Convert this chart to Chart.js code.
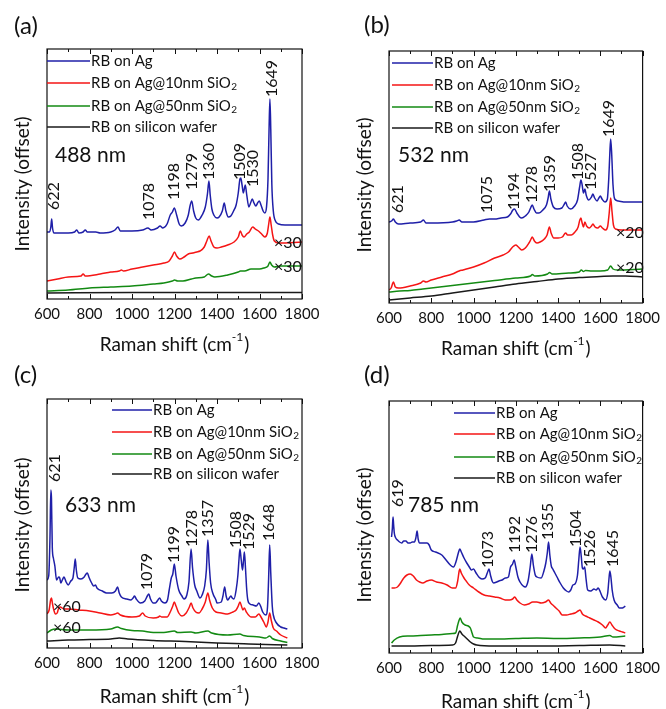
<!DOCTYPE html>
<html>
<head>
<meta charset="utf-8">
<script src="https://cdn.jsdelivr.net/npm/chart.js@4.4.0/dist/chart.umd.min.js"></script>
<style>
  body { margin: 0; background: #fff; width: 666px; height: 709px; overflow: hidden; position: relative; }
  .panel { position: absolute; }
</style>
</head>
<body>
<div class="panel" style="left:0;top:0"><canvas id="cA" width="333" height="368"></canvas></div>
<div class="panel" style="left:333px;top:0"><canvas id="cB" width="333" height="368"></canvas></div>
<div class="panel" style="left:0;top:354px"><canvas id="cC" width="333" height="355"></canvas></div>
<div class="panel" style="left:333px;top:354px"><canvas id="cD" width="333" height="355"></canvas></div>

<script>
// ---- data (Raman shift cm-1, offset intensity) ----
const SERIES_LABELS = ["RB on Ag", "RB on Ag@10nm SiO_2", "RB on Ag@50nm SiO_2", "RB on silicon wafer"];
const X_TICKS = [600, 800, 1000, 1200, 1400, 1600, 1800];

// (a) 488 nm
const aBlue = [[600,67],[612,67],[618,72],[622,80],[626,71],[632,66],[700,66],[730,67],[740,69],[750,66],[770,67],[780,69],[790,67],[830,67],[850,66],[900,67],[920,69],[934,72],[945,68],[1000,68],[1050,69],[1075,71],[1090,69],[1120,71],[1132,73],[1145,71],[1165,75],[1180,84],[1190,87],[1199,91],[1210,84],[1222,75],[1232,73],[1250,76],[1265,84],[1273,93],[1281,98],[1290,88],[1300,81],[1312,79],[1330,84],[1345,92],[1355,105],[1362,118],[1368,104],[1376,90],[1385,84],[1400,81],[1410,82],[1425,88],[1434,96],[1442,88],[1453,82],[1465,83],[1478,88],[1490,94],[1500,106],[1508,120],[1512,121],[1518,114],[1524,106],[1533,114],[1540,104],[1550,92],[1558,96],[1566,100],[1574,96],[1583,93],[1591,96],[1599,98],[1607,94],[1617,88],[1625,86],[1633,92],[1640,120],[1645,170],[1649,200],[1653,170],[1658,115],[1665,88],[1675,78],[1690,75],[1720,74],[1800,74]];
const aRed = [[600,18],[650,20],[700,22],[760,23],[770,25],[780,23],[850,25],[900,27],[940,28],[950,29],[960,28],[1000,30],[1050,32],[1100,34],[1150,36],[1175,38],[1190,43],[1200,47],[1210,43],[1225,40],[1245,42],[1265,45],[1285,46],[1305,47],[1320,48],[1340,52],[1352,58],[1363,63],[1372,58],[1385,52],[1400,51],[1420,52],[1450,54],[1480,57],[1500,62],[1510,68],[1518,64],[1527,62],[1540,65],[1552,67],[1568,72],[1580,70],[1595,68],[1610,65],[1625,62],[1637,66],[1644,76],[1649,82],[1655,74],[1662,64],[1670,58],[1690,56],[1800,57]];
const aGreen = [[600,8],[700,9],[800,11],[900,12],[1000,13],[1100,15],[1150,16],[1190,18],[1200,19],[1215,18],[1240,18],[1280,20],[1300,21],[1340,22],[1360,25],[1375,23],[1390,22],[1450,24],[1500,27],[1510,28],[1530,28],[1560,30],[1600,30],[1620,31],[1640,33],[1649,37],[1657,34],[1670,32],[1700,33],[1800,33]];
const aBlack = [[600,6],[1000,6.5],[1400,6.5],[1800,6.5]];
const aPeaks = [["622",633,89],["1078",1078,79],["1198",1199,99],["1279",1282,109],["1360",1362,119],["1509",1509,119],["1530",1569,112],["1649",1659,202]];

// (b) 532 nm
const bBlue = [[600,81],[612,82],[621,84],[630,81],[645,79],[700,80],[750,81],[763,83],[775,80],[800,80],[900,81],[920,82],[932,83],[945,81],[1000,81],[1050,83],[1075,84],[1100,84],[1130,85],[1160,86],[1175,89],[1186,93],[1194,94],[1205,90],[1218,86],[1228,85],[1245,87],[1262,91],[1272,96],[1278,98],[1286,94],[1298,90],[1310,90],[1328,93],[1345,98],[1353,105],[1359,112],[1366,104],[1378,96],[1395,94],[1418,95],[1430,99],[1436,101],[1443,97],[1460,94],[1478,97],[1492,103],[1502,116],[1508,123],[1514,118],[1520,110],[1527,114],[1533,108],[1545,103],[1558,106],[1565,109],[1573,105],[1585,102],[1593,105],[1600,107],[1608,104],[1622,101],[1633,104],[1640,125],[1645,150],[1649,164],[1654,148],[1660,118],[1668,104],[1685,102],[1720,101],[1800,101]];
const bRed = [[600,13],[610,15],[621,21],[630,16],[645,15],[700,17],[750,20],[763,22],[775,21],[800,23],[850,26],[900,29],[932,32],[950,33],[1000,36],[1050,40],[1100,45],[1140,48],[1165,51],[1185,56],[1200,58],[1212,56],[1228,53],[1245,55],[1262,60],[1270,63],[1278,66],[1288,62],[1300,60],[1315,61],[1335,64],[1348,68],[1359,76],[1367,70],[1380,65],[1400,65],[1420,66],[1436,70],[1445,68],[1462,68],[1480,71],[1495,76],[1503,83],[1508,85],[1514,80],[1520,76],[1527,81],[1535,77],[1548,75],[1558,77],[1565,79],[1575,76],[1588,75],[1600,77],[1610,75],[1625,73],[1635,77],[1642,90],[1649,105],[1655,92],[1662,78],[1672,74],[1700,73],[1800,73]];
const bGreen = [[600,11],[650,12],[700,12.5],[760,14],[800,15],[900,17.5],[1000,20],[1100,22.5],[1200,25],[1270,27],[1278,28.5],[1290,27],[1350,29],[1360,30.5],[1372,29],[1450,30],[1500,31],[1510,33],[1520,31.5],[1530,32.5],[1560,32],[1600,32],[1635,33],[1649,37],[1660,34],[1680,33],[1800,34]];
const bBlack = [[600,3],[700,5],[800,7],[900,10],[1000,13],[1100,16],[1200,19],[1300,21.5],[1400,24],[1500,25.5],[1600,26.5],[1660,27],[1720,27],[1800,26]];
const bPeaks = [["621",642,90],["1075",1064,90],["1194",1189,93],["1278",1275,100],["1359",1361,111],["1508",1494,123],["1527",1556,113],["1649",1642,166]];

// (c) 633 nm
const cBlue = [[600,68],[608,72],[614,110],[618,158],[621,150],[625,100],[630,90],[637,82],[645,68],[655,71],[660,70],[665,65],[672,68],[680,71],[690,66],[700,63],[712,67],[722,70],[728,80],[733,89],[738,78],[745,70],[760,69],[775,71],[784,74],[790,75],[797,71],[810,65],[820,62],[828,63],[835,60],[860,57],[880,55],[905,55],[922,57],[932,61],[940,55],[950,51],[975,49],[995,48],[1005,50],[1012,52],[1020,49],[1040,45],[1060,47],[1072,52],[1079,54],[1087,49],[1100,45],[1110,45],[1122,48],[1130,50],[1138,47],[1155,45],[1167,48],[1175,58],[1185,70],[1192,74],[1199,84],[1207,72],[1220,58],[1235,52],[1245,49],[1258,53],[1268,66],[1278,99],[1285,80],[1295,63],[1305,57],[1320,50],[1330,53],[1342,62],[1350,78],[1357,108],[1363,85],[1370,65],[1380,55],[1395,48],[1400,45],[1420,46],[1428,52],[1436,61],[1443,52],[1450,48],[1458,50],[1465,52],[1472,50],[1480,49],[1490,58],[1498,72],[1504,90],[1508,99],[1514,88],[1520,78],[1525,88],[1529,96],[1534,80],[1540,58],[1545,48],[1555,44],[1570,43],[1585,42],[1597,45],[1605,42],[1615,36],[1630,33],[1638,42],[1643,70],[1648,103],[1653,75],[1660,42],[1665,33],[1680,25],[1700,21],[1715,20],[1731,19]];
const cRed = [[600,34],[610,38],[617,48],[621,50],[626,44],[632,38],[640,34],[648,35],[655,40],[662,41],[680,39],[700,39],[750,38],[800,37],[850,35],[900,33],[920,34],[932,35],[945,33],[1000,31],[1035,32],[1050,35],[1062,32],[1100,30],[1125,31],[1130,32],[1140,31],[1165,31],[1180,36],[1192,42],[1199,46],[1207,42],[1220,35],[1235,32],[1255,35],[1270,41],[1278,45],[1287,40],[1300,36],[1315,35],[1330,39],[1345,46],[1357,55],[1365,48],[1378,40],[1395,36],[1420,35],[1450,34],[1475,36],[1490,38],[1500,42],[1508,46],[1515,42],[1522,38],[1529,40],[1538,36],[1560,31],[1580,31],[1597,34],[1607,31],[1620,26],[1632,21],[1640,26],[1648,35],[1655,28],[1665,20],[1680,17],[1700,13],[1731,10]];
const cGreen = [[600,15],[620,18],[640,19],[700,18],[800,18],[900,19],[932,21],[950,19.5],[1000,17.5],[1050,17],[1100,15.5],[1150,15.5],[1199,17],[1215,15.5],[1278,16],[1300,15],[1357,17],[1375,15],[1450,13],[1508,14],[1525,12.5],[1600,11],[1630,10],[1648,12],[1660,9.5],[1700,7],[1731,5.5]];
const cBlack = [[600,7],[700,8],[800,8.5],[900,9],[940,10],[980,9],[1100,7.5],[1250,6.5],[1400,5],[1550,4],[1731,3]];
const cPeaks = [["621",638,166],["1079",1069,58],["1199",1195,85],["1278",1281,101],["1357",1359,111],["1508",1489,100],["1529",1552,98],["1648",1646,107]];

// (d) 785 nm
const dBlue = [[612,116],[616,125],[619,136],[622,128],[625,120],[632,115],[640,113],[650,111],[660,110],[670,112],[680,112],[690,110],[700,110],[710,111],[720,111],[727,115],[733,122],[738,114],[745,110],[760,110],[780,110],[790,108],[800,103],[820,101],[850,98],[870,93],[890,88],[905,86],[918,92],[928,100],[935,104],[942,101],[955,95],[968,90],[980,86],[990,83],[1000,84],[1012,80],[1025,76],[1040,74],[1055,75],[1065,80],[1073,84],[1080,78],[1088,72],[1095,70],[1110,71],[1120,72],[1135,73],[1150,75],[1165,76],[1175,86],[1185,89],[1192,93],[1200,86],[1210,76],[1220,71],[1235,67],[1245,66],[1258,72],[1268,86],[1276,99],[1283,88],[1292,78],[1300,76],[1320,75],[1333,82],[1342,90],[1349,100],[1355,111],[1361,98],[1368,87],[1375,84],[1385,80],[1395,76],[1410,70],[1425,65],[1440,62],[1450,61],[1460,63],[1470,68],[1480,69],[1492,78],[1498,93],[1504,106],[1510,96],[1515,85],[1520,84],[1526,86],[1532,75],[1540,63],[1555,62],[1570,64],[1580,63],[1590,65],[1600,61],[1610,56],[1625,53],[1635,60],[1640,72],[1645,82],[1650,76],[1656,63],[1665,53],[1680,48],[1690,45],[1705,45],[1712,46],[1718,47]];
const dRed = [[612,65],[625,65],[640,66],[655,70],[670,75],[685,78],[700,79],[715,77],[730,73],[745,71],[760,70],[780,72],[800,73],[825,71],[850,70],[875,68],[900,65],[915,65],[925,72],[932,82],[935,84],[942,80],[955,75],[965,72],[980,68],[1000,65],[1025,61],[1050,58],[1075,57],[1100,56],[1125,55],[1150,53],[1170,53],[1185,54],[1195,56],[1205,53],[1220,50],[1240,48],[1260,49],[1280,51],[1300,51],[1320,50],[1340,51],[1355,53],[1365,50],[1380,47],[1390,45],[1405,42],[1420,38],[1440,38],[1460,39],[1480,40],[1495,42],[1504,43],[1515,39],[1530,37],[1550,35],[1570,33],[1590,31],[1610,28],[1625,25],[1635,28],[1645,31],[1655,28],[1670,24],[1690,22],[1705,21],[1718,20]];
const dGreen = [[612,10],[625,13],[650,16],[700,17],[750,17.5],[800,18],[850,18.5],[900,19.5],[915,20],[925,28],[932,33],[937,35],[945,31],[960,28],[975,27],[985,25],[993,20],[1000,16],[1020,15],[1050,14],[1100,14],[1200,14.5],[1300,15],[1400,14.5],[1500,15],[1600,16],[1645,17.5],[1660,16],[1718,17]];
const dBlack = [[612,7],[700,7],[800,7.5],[900,8],[915,10],[925,17],[935,22],[945,19],[960,16],[975,13],[985,11],[1000,9],[1015,8],[1100,7],[1300,7],[1500,7.5],[1645,8],[1718,7]];
const dPeaks = [["619",642,146],["1073",1069,85],["1192",1194,100],["1276",1275,100],["1355",1353,113],["1504",1486,106],["1526",1548,86],["1645",1658,86]];

// ---- style ----
const FONT = "Lato, 'Open Sans', sans-serif";
const COLORS = ["#1f1fa8", "#f51515", "#138a13", "#1a1a1a"];
const TXT = "#111";

function font(px) { return px + "px " + FONT; }

function drawSub(ctx, label, x, y, size) {
  // "SiO_2" -> SiO with subscript 2
  const parts = label.split("_");
  ctx.font = font(size);
  ctx.fillText(parts[0], x, y);
  if (parts[1]) {
    const w = ctx.measureText(parts[0]).width;
    ctx.font = font(Math.round(size * 0.68));
    ctx.fillText(parts[1], x + w + 0.5, y + 4);
  }
}

const framePlugin = {
  id: "frame",
  afterDraw(chart) {
    const ctx = chart.ctx;
    const a = chart.chartArea;
    const xs = chart.scales.x, ys = chart.scales.y;
    const o = chart.options.panel;

    ctx.save();
    // box
    ctx.strokeStyle = "#111";
    ctx.lineWidth = 1.2;
    ctx.strokeRect(a.left, a.top, a.right - a.left, a.bottom - a.top);

    // inward ticks top + bottom
    ctx.lineWidth = 1;
    for (let v = 600; v <= 1800; v += 100) {
      const px = Math.round(xs.getPixelForValue(v)) + 0.5;
      const len = v % 200 === 0 ? 5 : 3;
      ctx.beginPath();
      ctx.moveTo(px, a.bottom); ctx.lineTo(px, a.bottom - len);
      ctx.moveTo(px, a.top); ctx.lineTo(px, a.top + len);
      ctx.stroke();
    }

    // legend
    ctx.fillStyle = TXT;
    ctx.textAlign = "left";
    ctx.textBaseline = "middle";
    SERIES_LABELS.forEach((lab, i) => {
      const y = a.top + o.legRows[i];
      ctx.strokeStyle = COLORS[i];
      ctx.lineWidth = 1.3;
      ctx.beginPath();
      ctx.moveTo(a.left + o.legX[0], y);
      ctx.lineTo(a.left + o.legX[1], y);
      ctx.stroke();
      drawSub(ctx, lab, a.left + o.legX[1] + 1, y, 15);
    });

    // peak labels (rotated)
    ctx.font = font(16);
    o.peaks.forEach(([t, x, y]) => {
      ctx.save();
      ctx.translate(xs.getPixelForValue(x), ys.getPixelForValue(y));
      ctx.rotate(-Math.PI / 2);
      ctx.textAlign = "left";
      ctx.textBaseline = "middle";
      ctx.fillText(t, 0, 0);
      ctx.restore();
    });

    // wavelength label
    ctx.font = font(21);
    ctx.fillText(o.laser, o.laserPos[0], o.laserPos[1]);

    // multipliers
    ctx.font = font(16);
    (o.mult || []).forEach(([t, x, y]) => ctx.fillText(t, x, y));

    // panel letter
    ctx.font = font(24);
    ctx.fillText(o.letter, o.letterPos[0], o.letterPos[1]);

    // x title with superscript
    const cx = (a.left + a.right) / 2, ty = a.bottom + o.xTitleDy;
    const s1 = "Raman shift (cm", s3 = ")";
    ctx.font = font(12);
    const w2 = ctx.measureText("-1").width;
    ctx.font = font(19);
    const w1 = ctx.measureText(s1).width, w3 = ctx.measureText(s3).width;
    const x0 = cx - (w1 + w2 + w3 + 1) / 2;
    ctx.fillText(s1, x0, ty);
    ctx.font = font(12);
    ctx.fillText("-1", x0 + w1, ty - 8);
    ctx.font = font(19);
    ctx.fillText(s3, x0 + w1 + w2 + 1, ty);

    // y title
    ctx.save();
    ctx.translate(a.left - 24, o.yTitleY);
    ctx.rotate(-Math.PI / 2);
    ctx.textAlign = "center";
    ctx.font = font(19);
    ctx.fillText("Intensity (offset)", 0, 0);
    ctx.restore();

    ctx.restore();
  }
};

function makePanel(id, series, p) {
  const canvas = document.getElementById(id);
  const W = canvas.width, H = canvas.height;
  const [l, t, r, b] = p.box;
  new Chart(canvas, {
    type: "line",
    data: {
      datasets: series.map((s, i) => ({
        label: SERIES_LABELS[i],
        data: s.map(([x, y]) => ({ x, y })),
        borderColor: COLORS[i],
        borderWidth: 1.5,
        pointRadius: 0,
        cubicInterpolationMode: "monotone",
        fill: false
      })).reverse()
    },
    options: {
      responsive: false,
      animation: false,
      devicePixelRatio: 1,
      panel: p,
      layout: { padding: { left: l, top: t, right: W - r, bottom: H - b - 26 } },
      plugins: { legend: { display: false }, tooltip: { enabled: false } },
      scales: {
        x: {
          type: "linear", min: 600, max: 1800,
          afterBuildTicks: (s) => { s.ticks = X_TICKS.map(v => ({ value: v })); },
          afterFit: (s) => { s.height = 26; },
          grid: { display: false, drawTicks: false },
          border: { display: false },
          ticks: { color: TXT, font: { family: FONT, size: 15 }, padding: 6, maxRotation: 0, callback: (v) => String(v) }
        },
        y: { display: false, min: 0, max: p.ymax }
      }
    },
    plugins: [framePlugin]
  });
}

makePanel("cA", [aBlue, aRed, aGreen, aBlack], {
  box: [47, 49, 302, 299], ymax: 250, peaks: aPeaks,
  legX: [0, 43], legRows: [12, 34, 57, 78],
  laser: "488 nm", laserPos: [55, 155],
  mult: [["\u00d730", 274, 243], ["\u00d730", 274, 267]],
  letter: "(a)", letterPos: [14, 26], xTitleDy: 46, yTitleY: 184
});
makePanel("cB", [bBlue, bRed, bGreen, bBlack], {
  box: [56, 51, 312, 303], ymax: 252, peaks: bPeaks,
  legX: [3, 44], legRows: [12, 34, 56, 77],
  laser: "532 nm", laserPos: [65, 155],
  mult: [["\u00d720", 283, 233], ["\u00d720", 283, 268]],
  letter: "(b)", letterPos: [31, 25], xTitleDy: 46, yTitleY: 185
});
makePanel("cC", [cBlue, cRed, cGreen, cBlack], {
  box: [47, 45, 302, 294], ymax: 249, peaks: cPeaks,
  legX: [65, 105], legRows: [11, 33, 55, 75],
  laser: "633 nm", laserPos: [65, 151],
  mult: [["\u00d760", 53, 253], ["\u00d760", 53, 274]],
  letter: "(c)", letterPos: [14, 21], xTitleDy: 49, yTitleY: 171
});
makePanel("cD", [dBlue, dRed, dGreen, dBlack], {
  box: [56, 47, 312, 299], ymax: 252, peaks: dPeaks,
  legX: [65, 106], legRows: [12, 33, 56, 77],
  laser: "785 nm", laserPos: [75, 151],
  letter: "(d)", letterPos: [31, 21], xTitleDy: 49, yTitleY: 181
});
</script>
</body>
</html>
